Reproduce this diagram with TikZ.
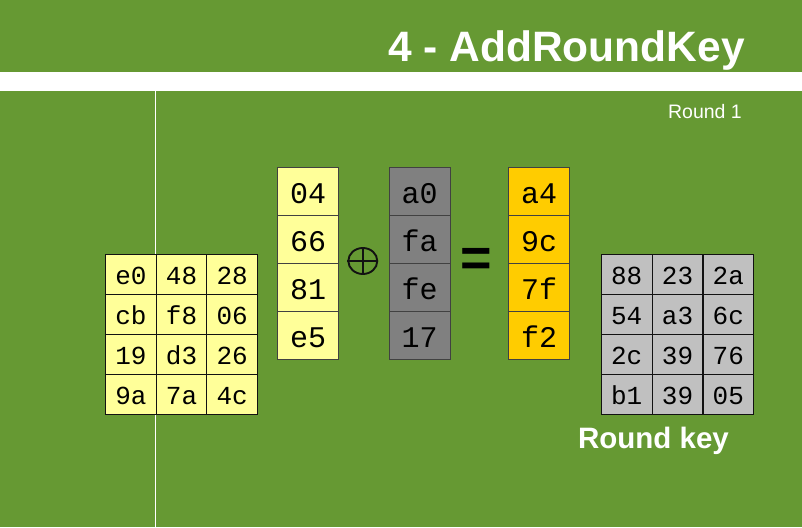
\documentclass[tikz,border=0pt]{standalone}
\usepackage{fontspec}
\setmainfont{Liberation Sans}
\newfontfamily\hexfont{Liberation Mono}
\usepackage{tikz}
\usetikzlibrary{positioning,shapes.geometric}
\definecolor{akgreen}{HTML}{669933}
\definecolor{akyellow}{HTML}{FFFF99}
\definecolor{akgray}{HTML}{808080}
\definecolor{akorange}{HTML}{FFCC00}
\definecolor{aksilver}{HTML}{C0C0C0}
\definecolor{akink}{HTML}{121212}

\begin{document}
\begin{tikzpicture}[x=1pt,y=-1pt,
    gridcell/.style={draw=akink,line width=0.9pt,inner sep=0pt,minimum width=50.6pt,minimum height=40pt,
      text height=20pt,text depth=0pt,font=\hexfont\fontsize{26}{26}\selectfont},
    colcell/.style={draw=akink!80,line width=0.9pt,inner sep=0pt,minimum width=60.6pt,minimum height=48pt,
      text height=24pt,text depth=0pt,font=\hexfont\fontsize{30}{30}\selectfont}]
  \useasboundingbox (0,0) rectangle (802,527);
  \fill[akgreen] (0,0) rectangle (802,527);
  \fill[white] (0,72) rectangle (802,91);
  \draw[white,line width=1pt] (155,91) -- (155,527);
  \node[anchor=base east,inner sep=0pt,text=white,font=\bfseries\fontsize{42.5}{42.5}\selectfont] (title) at (745,62) {4 - AddRoundKey};
  \node[anchor=base east,inner sep=0pt,text=white,font=\fontsize{19.5}{19.5}\selectfont] (round) at (742,118) {Round 1};
  % state
  \foreach \v [count=\i from 0] in {e0,48,28,cb,f8,06,19,d3,26,9a,7a,4c} {
    \pgfmathtruncatemacro\c{mod(\i,3)}
    \pgfmathtruncatemacro\r{div(\i,3)}
    \node[gridcell,fill=akyellow] (state-\r-\c) at ({131+50.6*\c},{274.3+40*\r}) {\v};
  }
  % columns
  \foreach \v [count=\r from 0] in {04,66,81,e5}
    \node[colcell,fill=akyellow] (col-\r) at (308,{191.3+48*\r}) {\v};
  \foreach \v [count=\r from 0] in {a0,fa,fe,17}
    \node[colcell,fill=akgray] (key-\r) at (419.7,{191.3+48*\r}) {\v};
  \foreach \v [count=\r from 0] in {a4,9c,7f,f2}
    \node[colcell,fill=akorange] (res-\r) at (539.2,{191.3+48*\r}) {\v};
  \node[ellipse,draw=akink,line width=1.9pt,inner sep=0pt,minimum width=29pt,minimum height=26pt] (xor) at (362.8,261) {};
  \draw[akink,line width=1.9pt] (xor.north) -- (xor.south) (xor.west) -- (xor.east);
  \node[inner sep=0pt,font=\bfseries\fontsize{54}{54}\selectfont] (eq) at (476,262) {=};
  % round key
  \foreach \v [count=\i from 0] in {88,23,2a,54,a3,6c,2c,39,76,b1,39,05} {
    \pgfmathtruncatemacro\c{mod(\i,3)}
    \pgfmathtruncatemacro\r{div(\i,3)}
    \node[gridcell,fill=aksilver] (rk-\r-\c) at ({626.7+50.8*\c},{274.3+40*\r}) {\v};
  }
  \node[below=12pt of rk-3-1,xshift=-24pt,inner sep=0pt,text=white,font=\bfseries\fontsize{29.5}{29.5}\selectfont] (rklabel) {Round key};
\end{tikzpicture}
\end{document}
